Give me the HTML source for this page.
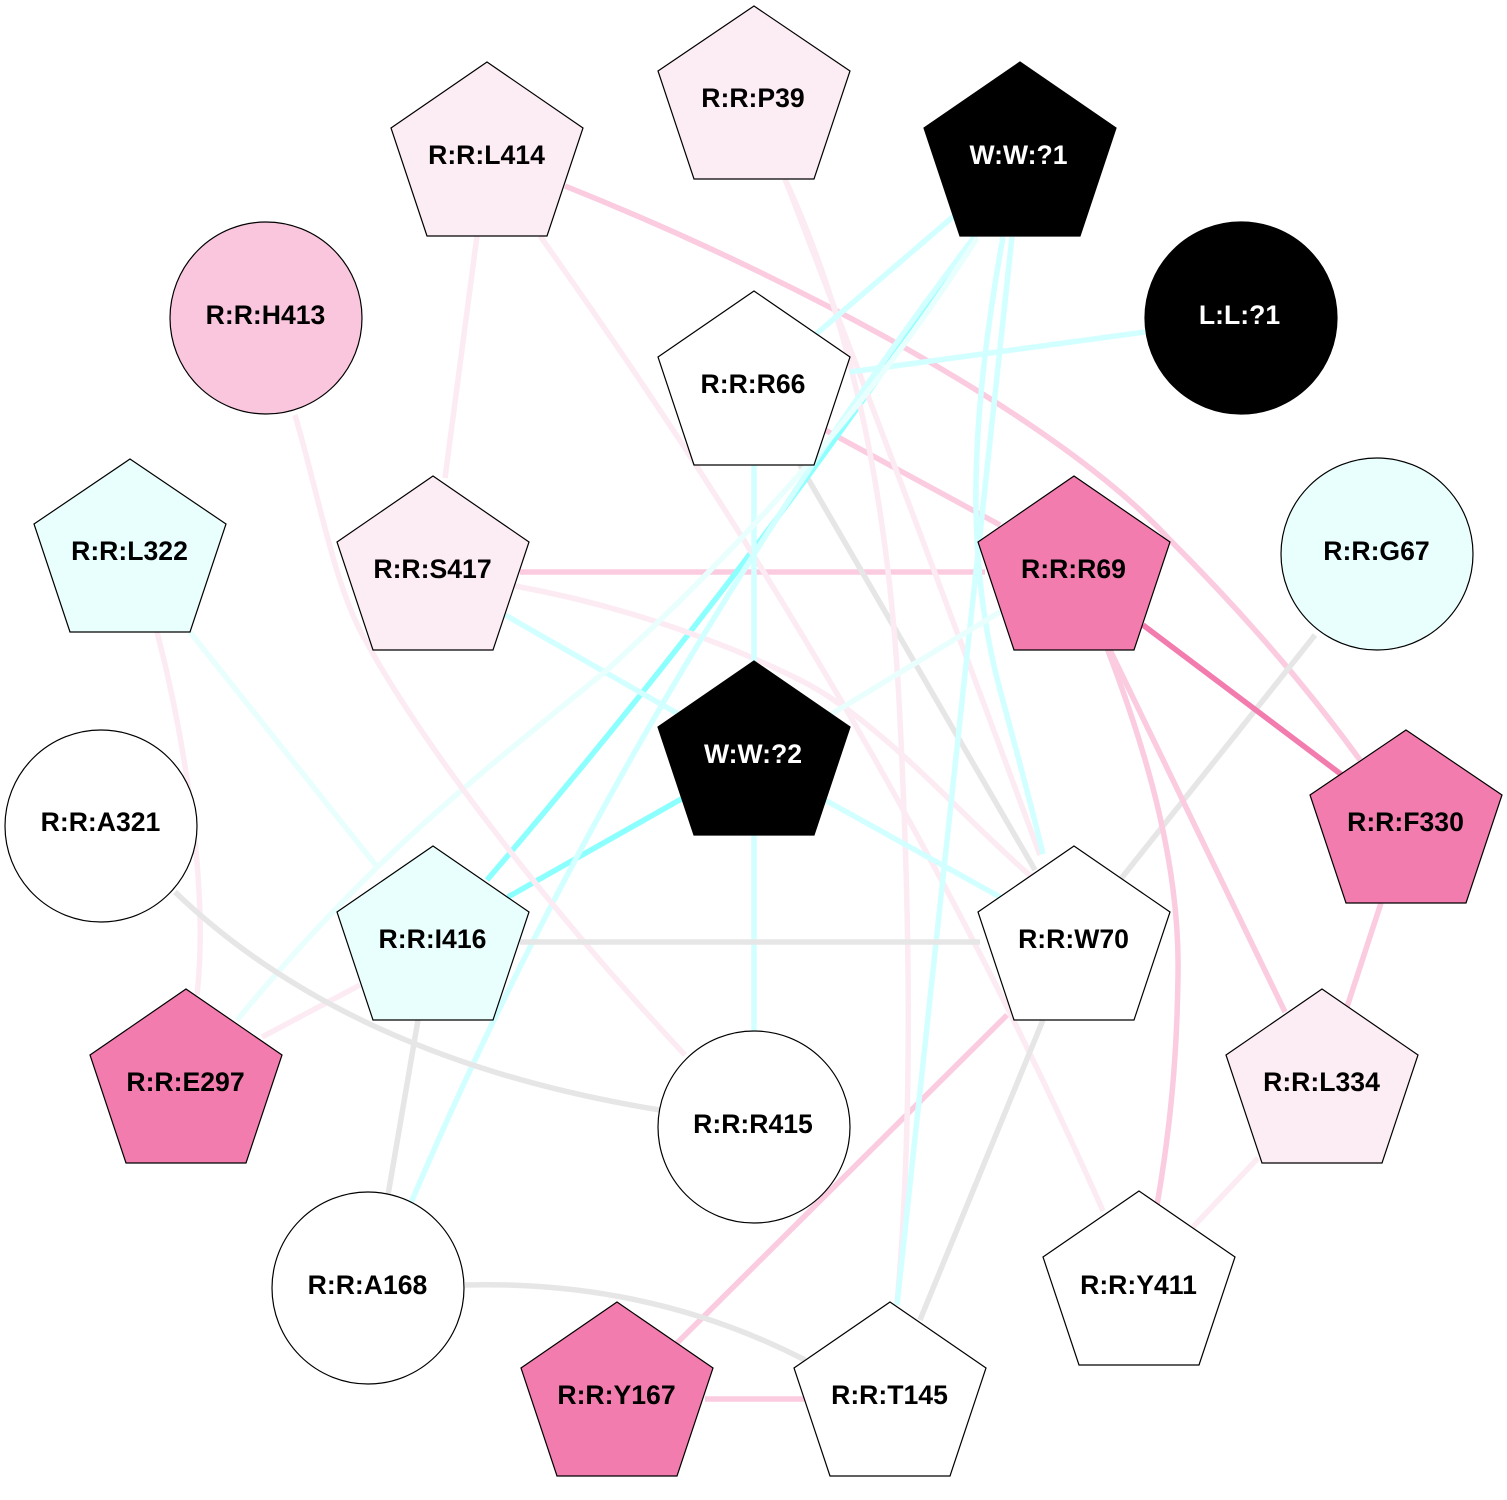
<!DOCTYPE html>
<html><head><meta charset="utf-8"><style>
html,body{margin:0;padding:0;background:#fff}
svg{display:block}
text{font-family:"Liberation Sans",Arial,sans-serif;font-weight:bold;font-size:26.6px;text-anchor:middle}
.e{fill:none;stroke-width:5.5}
.pk{stroke:#fbcbe0}.pp{stroke:#fcebf3}.c{stroke:#d2ffff}.pc{stroke:#e8fffd}.sc{stroke:#8cffff}.g{stroke:#e6e6e6}.sp{stroke:#f27cae}
.n{stroke:#000;stroke-width:1.2}
</style></head><body>
<svg width="1507" height="1500" viewBox="0 0 1507 1500" xmlns="http://www.w3.org/2000/svg">
<rect width="1507" height="1500" fill="#fff"/>
<g>
<path class="e pk" d="M565,186C800,280 1060,420 1170,540Q1280,650 1360,760"/>
<path class="e pk" d="M825,430L1000,525"/>
<path class="e pk" d="M520,572L985,572"/>
<path class="e pk" d="M1007,1015L675,1345"/>
<path class="e g" d="M800,465L1035,870"/>
<path class="e sc" d="M975,236Q763,558 487,880"/>
<path class="e sc" d="M683,798L508,897"/>
<path class="e pp" d="M477,236L445,478"/>
<path class="e pp" d="M540,236Q887,723 1103,1211"/>
<path class="e pp" d="M785,179Q905,490 1040,855"/>
<path class="e pp" d="M785,179C850,320 890,500 900,720C908,880 915,1100 897,1305"/>
<path class="e pp" d="M515,586C620,605 720,640 800,680C880,720 960,815 1035,880"/>
<path class="e pp" d="M157,632C180,720 210,880 197,995"/>
<path class="e pp" d="M360,985L262,1037"/>
<path class="e pp" d="M1258,1158L1193,1227"/>
<path class="e c" d="M1003,237C970,420 965,560 1000,690C1015,745 1030,800 1043,854"/>
<path class="e c" d="M1012,237L897,1305"/>
<path class="e c" d="M955,215L815,335"/>
<path class="e c" d="M975,236Q625,700 410,1205"/>
<path class="e c" d="M1145,332L850,372"/>
<path class="e c" d="M754,465L754,665"/>
<path class="e c" d="M754,835L754,1032"/>
<path class="e c" d="M505,615L680,715"/>
<path class="e c" d="M825,800L1000,897"/>
<path class="e pc" d="M977,238C880,390 760,530 607,670C460,790 370,860 237,1020"/>
<path class="e pc" d="M190,632L378,868"/>
<path class="e pc" d="M825,718L1003,610"/>
<path class="e pp" d="M295,415C320,500 335,590 367,643C420,740 540,900 685,1055"/>
<path class="e g" d="M1315,635L1120,880"/>
<path class="e g" d="M175,892Q350,1060 660,1110"/>
<path class="e g" d="M520,942L980,942"/>
<path class="e g" d="M418,1020L388,1195"/>
<path class="e g" d="M1043,1020L920,1320"/>
<path class="e g" d="M465,1285Q650,1280 805,1360"/>
<path class="e pk" d="M1110,650L1285,1012"/>
<path class="e pk" d="M1107,648C1150,760 1180,870 1178,975C1177,1060 1170,1130 1157,1205"/>
<path class="e pk" d="M1381,903L1347,1007"/>
<path class="e pk" d="M705,1399L805,1399"/>
<path class="e sp" d="M1143,625L1342,775"/>
</g>
<g class="n">
<polygon fill="#fcecf4" points="487,62 583,128 547,236 427,236 391,128"/>
<polygon fill="#fcecf4" points="754,6 850,71 814,179 694,179 658,71"/>
<polygon fill="#000" points="1020,62 1116,128 1080,236 960,236 924,128"/>
<circle fill="#000" cx="1241" cy="318" r="96"/>
<circle fill="#f9c6de" cx="266" cy="318" r="96"/>
<polygon fill="#fff" points="754,291 850,357 814,465 694,465 658,357"/>
<polygon fill="#e8fffd" points="130,459 226,524 190,632 70,632 34,524"/>
<polygon fill="#fcecf4" points="433,476 529,542 493,650 373,650 337,542"/>
<polygon fill="#f27cae" points="1074,476 1170,542 1134,650 1014,650 978,542"/>
<circle fill="#e8fffd" cx="1377" cy="554" r="96"/>
<circle fill="#fff" cx="101" cy="826" r="96"/>
<polygon fill="#000" points="754,661 850,727 814,835 694,835 658,727"/>
<polygon fill="#f27cae" points="1406,730 1502,795 1466,903 1346,903 1310,795"/>
<polygon fill="#e8fffd" points="433,846 529,912 493,1020 373,1020 337,912"/>
<polygon fill="#fff" points="1074,846 1170,912 1134,1020 1014,1020 978,912"/>
<polygon fill="#f27cae" points="186,989 282,1055 246,1163 126,1163 90,1055"/>
<polygon fill="#fcecf4" points="1322,989 1418,1055 1382,1163 1262,1163 1226,1055"/>
<circle fill="#fff" cx="754" cy="1127" r="96"/>
<circle fill="#fff" cx="368" cy="1288" r="96"/>
<polygon fill="#fff" points="1139,1191 1235,1257 1199,1365 1079,1365 1043,1257"/>
<polygon fill="#f27cae" points="617,1302 713,1368 677,1476 557,1476 521,1368"/>
<polygon fill="#fff" points="890,1302 986,1368 950,1476 830,1476 794,1368"/>
</g>
<g>
<text x="486.500" y="164">R:R:L414</text>
<text x="753" y="107">R:R:P39</text>
<text x="1018.500" y="164" fill="#fff">W:W:?1</text>
<text x="1239.500" y="324" fill="#fff">L:L:?1</text>
<text x="265.500" y="324">R:R:H413</text>
<text x="753" y="393">R:R:R66</text>
<text x="129.500" y="560">R:R:L322</text>
<text x="432.500" y="578">R:R:S417</text>
<text x="1073.500" y="578">R:R:R69</text>
<text x="1376.500" y="560">R:R:G67</text>
<text x="100.500" y="831">R:R:A321</text>
<text x="753" y="763" fill="#fff">W:W:?2</text>
<text x="1405.500" y="831">R:R:F330</text>
<text x="432.500" y="948">R:R:I416</text>
<text x="1073.500" y="948">R:R:W70</text>
<text x="185.500" y="1091">R:R:E297</text>
<text x="1321.500" y="1091">R:R:L334</text>
<text x="753" y="1133">R:R:R415</text>
<text x="367.500" y="1294">R:R:A168</text>
<text x="1138.500" y="1294">R:R:Y411</text>
<text x="616.500" y="1404">R:R:Y167</text>
<text x="889.500" y="1404">R:R:T145</text>
</g>
</svg>
</body></html>
